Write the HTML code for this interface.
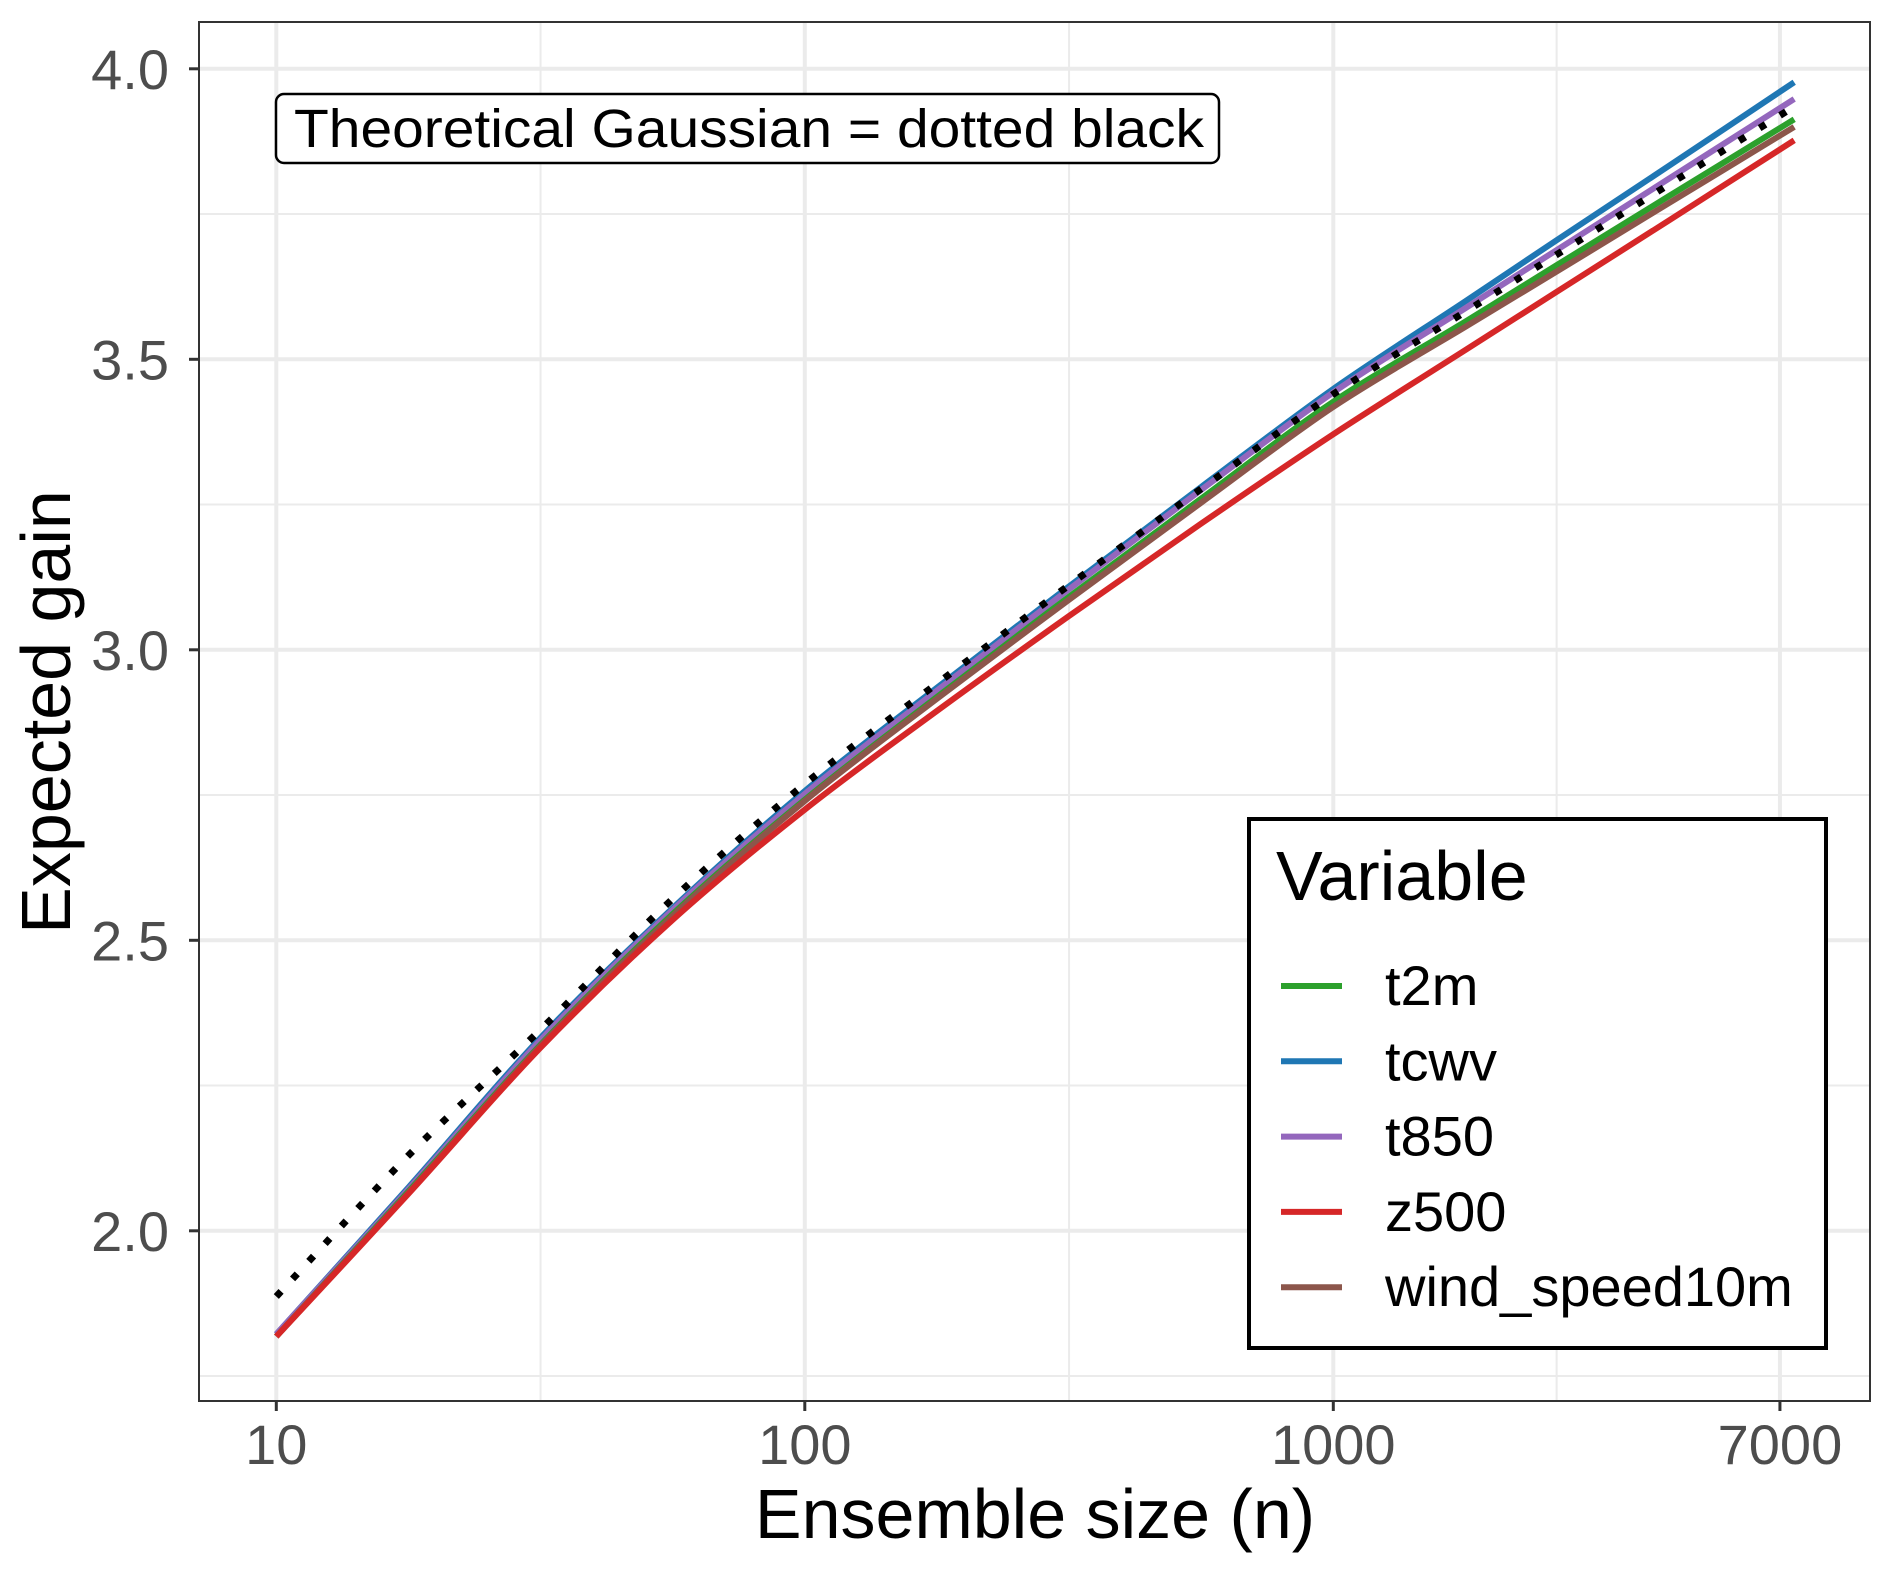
<!DOCTYPE html>
<html><head><meta charset="utf-8"><style>
body{margin:0;background:#fff}
svg{display:block;font-family:"Liberation Sans",sans-serif}
</style></head><body>
<svg id="chart" width="1892" height="1573" viewBox="0 0 1892 1573"></svg>
<script>
const nVals=[10,17.8,31.6,56.2,100,178,316,562,1000,1778,2645,4300,7450];
const gaussVals=[1.887,2.13,2.346,2.571,2.769,2.942,3.111,3.277,3.44,3.582,3.68,3.80,3.935];
const t2mVals=[1.818,2.068,2.32,2.545,2.742,2.919,3.091,3.26,3.427,3.565,3.662,3.78,3.913];
const tcwvVals=[1.822,2.075,2.332,2.555,2.757,2.935,3.109,3.28,3.449,3.600,3.705,3.832,3.977];
const t850Vals=[1.822,2.072,2.328,2.552,2.752,2.93,3.104,3.275,3.443,3.588,3.688,3.81,3.948];
const z500Vals=[1.818,2.064,2.315,2.535,2.725,2.895,3.058,3.217,3.371,3.516,3.616,3.738,3.877];
const windVals=[1.818,2.066,2.318,2.542,2.74,2.916,3.086,3.253,3.418,3.556,3.651,3.768,3.90];
const seriesNames=["t2m","tcwv","t850","z500","wind_speed10m"];
const seriesColors=["#2ca02c","#1f77b4","#9467bd","#d62728","#8c564b"];
const yTicks=[2.0,2.5,3.0,3.5,4.0];
const yTickLabels=["2.0","2.5","3.0","3.5","4.0"];
const yMinor=[1.75,2.25,2.75,3.25,3.75];
const xTicks=[10,100,1000,7000];
const xTickLabels=["10","100","1000","7000"];
const xMinor=[Math.sqrt(1000),Math.sqrt(100000),Math.sqrt(7000000)];

const NS="http://www.w3.org/2000/svg";
const svg=document.getElementById('chart');
const P={l:199,t:22,r:1870,b:1401};
const xs=n=>276.3+(Math.log10(n)-1)*528.5;
const ys=v=>68.8+(4-v)*581;
function mk(tag,attrs,parent){const e=document.createElementNS(NS,tag);for(const k in attrs)e.setAttribute(k,attrs[k]);(parent||svg).appendChild(e);return e;}
function smooth(vals){
  const p=nVals.map((n,j)=>[xs(n),ys(vals[j])]);
  let d='M'+p[0][0].toFixed(1)+','+p[0][1].toFixed(1);
  for(let i=0;i<p.length-1;i++){
    const p0=p[Math.max(i-1,0)],p1=p[i],p2=p[i+1],p3=p[Math.min(i+2,p.length-1)];
    const c1=[p1[0]+(p2[0]-p0[0])/6,p1[1]+(p2[1]-p0[1])/6];
    const c2=[p2[0]-(p3[0]-p1[0])/6,p2[1]-(p3[1]-p1[1])/6];
    d+=' C'+c1.map(v=>v.toFixed(1)).join(',')+' '+c2.map(v=>v.toFixed(1)).join(',')+' '+p2.map(v=>v.toFixed(1)).join(',');
  }
  return d;
}

const grid=mk('g',{});


yMinor.forEach(v=>{const l=mk('line',{x1:P.l,x2:P.r,y1:ys(v),y2:ys(v),stroke:'#ebebeb','stroke-width':2},grid);

});
xMinor.forEach(v=>{const l=mk('line',{x1:xs(v),x2:xs(v),y1:P.t,y2:P.b,stroke:'#ebebeb','stroke-width':2},grid);

});
yTicks.forEach(v=>{const l=mk('line',{x1:P.l,x2:P.r,y1:ys(v),y2:ys(v),stroke:'#ebebeb','stroke-width':4},grid);

});
xTicks.forEach(v=>{const l=mk('line',{x1:xs(v),x2:xs(v),y1:P.t,y2:P.b,stroke:'#ebebeb','stroke-width':4},grid);

});

const allSeries=[t2mVals,tcwvVals,t850Vals,z500Vals,windVals];
const order=[1,2,0,4,3];
order.forEach(i=>{
  const p=mk('path',{d:smooth(allSeries[i]),fill:'none',stroke:seriesColors[i],'stroke-width':6,'stroke-linejoin':'round'});
  
  
});
const gp=mk('path',{d:smooth(gaussVals),fill:'none',stroke:'#000','stroke-width':7,'stroke-dasharray':'7 17'});



const frame=mk('rect',{x:P.l,y:P.t,width:P.r-P.l,height:P.b-P.t,fill:'none',stroke:'#333','stroke-width':2});



yTicks.forEach((v,i)=>{
  const t=mk('line',{x1:P.l-10,x2:P.l,y1:ys(v),y2:ys(v),stroke:'#333','stroke-width':3});
  
  
  const tx=mk('text',{x:169,y:ys(v)+20,'text-anchor':'end','font-size':56,fill:'#4d4d4d'});
  tx.textContent=yTickLabels[i];
  
  
});
xTicks.forEach((v,i)=>{
  const t=mk('line',{x1:xs(v),x2:xs(v),y1:P.b,y2:P.b+10,stroke:'#333','stroke-width':3});
  
  
  const tx=mk('text',{x:xs(v),y:1464,'text-anchor':'middle','font-size':56,fill:'#4d4d4d'});
  tx.textContent=xTickLabels[i];
  
  
});

const leg=mk('g',{});


mk('rect',{x:1249,y:819,width:577,height:529,fill:'#fff',stroke:'#000','stroke-width':4},leg);
const lt=mk('text',{x:1276,y:900,'font-size':70,fill:'#000'},leg);
lt.textContent='Variable';


seriesNames.forEach((s,i)=>{
  const cy=986+i*75.3;
  const g=mk('g',{},leg);
  
  
  mk('line',{x1:1281,x2:1342,y1:cy,y2:cy,stroke:seriesColors[i],'stroke-width':6},g);
  const t=mk('text',{x:1385,y:cy+19,'font-size':56,fill:'#000'},g);
  t.textContent=s;
});
</script>
<svg width="1892" height="1573" style="position:absolute;left:0;top:0;font-family:'Liberation Sans',sans-serif">
<g>
<rect x="276" y="94" width="943" height="69" rx="8" fill="#fff" stroke="#000" stroke-width="2.5"/>
<text x="294" y="147" font-size="54" fill="#000" textLength="910" lengthAdjust="spacingAndGlyphs">Theoretical Gaussian = dotted black</text>
</g>
<text x="1035" y="1538" text-anchor="middle" font-size="70" fill="#000">Ensemble size (n)</text>
<text transform="translate(70,712) rotate(-90)" text-anchor="middle" font-size="70" fill="#000">Expected gain</text>
</svg>
</body></html>
